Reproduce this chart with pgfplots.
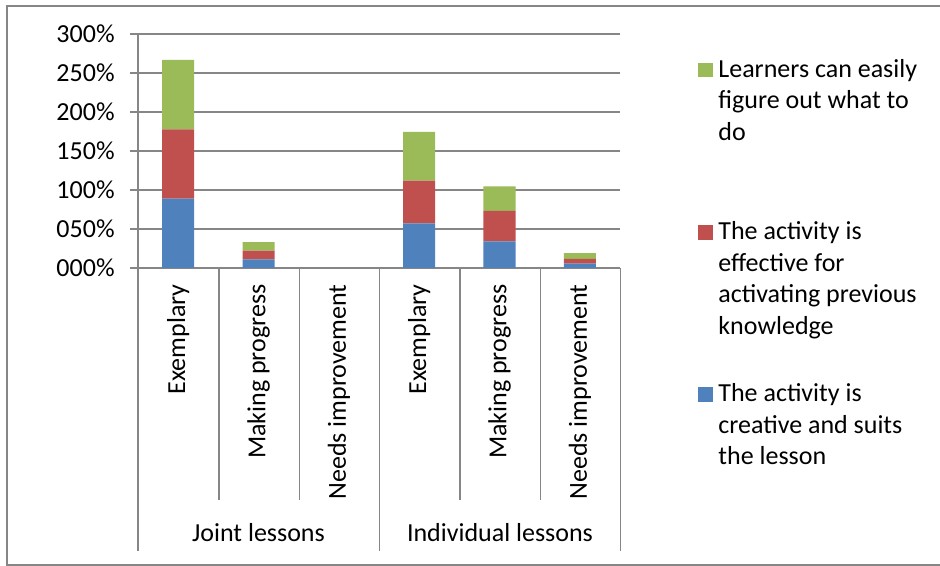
\documentclass[border=0pt]{standalone}
\usepackage{pgfplots}
\pgfplotsset{compat=1.18}
\usepackage{fontspec}
\setmainfont{Carlito}
\definecolor{xlblue}{HTML}{4F81BD}
\definecolor{xlred}{HTML}{C0504D}
\definecolor{xlgreen}{HTML}{9BBB59}
\definecolor{xlgrid}{HTML}{868686}
\newcommand\cf{\fontsize{13}{15.7}\selectfont}

\begin{document}
\begin{tikzpicture}
\begin{axis}[
  name=ax,
  scale only axis,
  width=241pt, height=117pt,
  xmin=-0.5, xmax=5.5, ymin=0, ymax=300,
  ybar stacked, bar width=16pt,
  axis x line*=bottom, axis y line*=left,
  axis line style={-, draw=xlgrid, line width=0.75pt},
  ymajorgrids, grid style={draw=xlgrid, line width=0.75pt},
  ytick={0,50,...,300},
  yticklabels={000\%,050\%,100\%,150\%,200\%,250\%,300\%},
  xtick={0,...,5},
  xticklabels={Exemplary,Making progress,Needs improvement,Exemplary,Making progress,Needs improvement},
  tick align=outside, major tick length=4pt,
  y tick style={draw=xlgrid, line width=0.75pt},
  x tick style={draw=none},
  tick label style={font=\cf},
  xticklabel style={rotate=90, anchor=east, inner sep=0pt},
  yticklabel style={anchor=east, inner sep=0pt},
  xticklabel shift=4pt, yticklabel shift=7.5pt,
  /pgf/number format/assume math mode=true,
]
% stacked from the bottom: blue, red, green
\addplot[fill=xlblue, draw=none] coordinates {(0,88.9) (1,11.1) (2,0) (3,57.3) (4,34.1) (5,5.6)};
\addplot[fill=xlred, draw=none] coordinates {(0,88.9) (1,11.1) (2,0) (3,54.7) (4,39.2) (5,6.0)};
\addplot[fill=xlgreen, draw=none] coordinates {(0,88.9) (1,11.1) (2,0) (3,62.6) (4,31.4) (5,7.4)};
\end{axis}
% pixel coordinates of the reference from here on
\begin{scope}[shift={(ax.south west)}, x=0.5pt, y=-0.5pt, shift={(-138,-268)}]
  \draw[xlgrid, line width=0.75pt] (945,6) -- (7,6) -- (7,565) -- (945,565);
  \foreach \xx in {219,299.7,460,540.3} \draw[xlgrid, line width=0.75pt] (\xx,268) -- (\xx,500);
  \foreach \xx in {138,379.7,620.5} \draw[xlgrid, line width=0.75pt] (\xx,268) -- (\xx,551);
  \node[font=\cf, anchor=base, inner sep=0pt] at (258.5,541.5) {Joint lessons};
  \node[font=\cf, anchor=base, inner sep=0pt] at (500,541.5) {Individual lessons};
  % legend
  \fill[xlgreen] (698,62.7) rectangle (713,77.3);
  \fill[xlred] (698,225) rectangle (713,240);
  \fill[xlblue] (698,386.7) rectangle (713,401.7);
  \node[anchor=base west, inner sep=0pt, font=\cf] at (718,77.3)
    {\vtop{\hbox{Learners can easily}\hbox{figure out what to}\hbox{do}}};
  \node[anchor=base west, inner sep=0pt, font=\cf] at (718,240)
    {\vtop{\hbox{The activity is}\hbox{effective for}\hbox{activating previous}\hbox{knowledge}}};
  \node[anchor=base west, inner sep=0pt, font=\cf] at (718,401.7)
    {\vtop{\hbox{The activity is}\hbox{creative and suits}\hbox{the lesson}}};
  \pgfresetboundingbox
  \path[use as bounding box] (0,0) rectangle (940,566);
\end{scope}
\end{tikzpicture}
\end{document}
